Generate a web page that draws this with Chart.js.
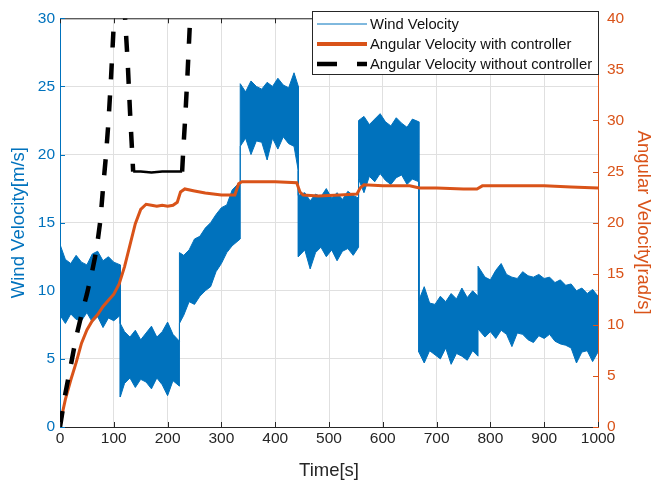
<!DOCTYPE html>
<html>
<head>
<meta charset="utf-8">
<script src="https://cdn.jsdelivr.net/npm/chart.js@4.4.0/dist/chart.umd.min.js"></script>
<style>
html,body{margin:0;padding:0;background:#fff}
</style>
</head>
<body>
<canvas id="velChart" width="652" height="482"></canvas>
<script>
// wind velocity band (m/s): upper and lower edge of the noisy signal
const windTime = [0,10,20,30,40,50,60,70,80,90,100,112,
  112,120,130,140,150,160,170,180,190,200,210,222,
  222,230,240,250,260,270,280,290,300,310,320,335,
  335,345,355,365,375,385,395,405,415,425,435,443,
  443,455,465,475,485,495,505,515,525,535,545,555,
  555,565,575,585,595,605,615,625,635,645,655,667,
  667,677,687,697,707,717,727,737,747,757,767,777,
  777,790,800,810,820,830,840,850,860,870,880,890,900,910,920,930,940,950,960,970,980,990,1000]
const windHigh = [13.4,12.3,12.0,12.6,12.1,11.9,12.7,12.9,12.2,12.5,12.1,11.9,
  7.6,7.0,6.6,7.1,6.4,6.9,7.4,6.6,7.0,7.7,6.8,6.3,
  12.8,12.6,13.0,13.8,14.0,14.6,15.0,15.6,16.1,16.3,17.4,18.0,
  25.2,24.6,25.4,25.0,24.8,25.3,25.0,25.6,25.1,24.9,26.0,25.0,
  17.0,17.2,16.6,17.1,16.9,17.5,16.8,17.2,16.7,17.3,17.0,16.8,
  22.5,22.8,22.2,22.6,23.0,22.4,22.1,22.7,22.3,22.0,22.6,22.4,
  9.3,10.3,9.1,9.0,9.6,9.2,9.8,9.4,10.2,9.5,10.0,9.6,
  11.8,11.0,10.8,11.5,12.0,11.2,11.0,10.9,11.4,11.1,11.0,11.2,10.9,11.0,10.6,10.8,10.4,10.5,10.0,10.2,9.8,10.1,9.6]
const windLow = [8.2,7.6,8.3,7.9,7.8,8.4,7.7,8.1,7.3,8.0,7.8,8.2,
  2.2,3.2,3.6,2.9,3.5,3.3,2.8,3.6,3.1,2.3,3.4,3.0,
  7.6,8.2,9.2,9.0,9.6,10.0,10.3,11.4,12.0,12.8,13.3,13.8,
  20.6,21.2,20.0,21.0,20.9,19.6,21.2,20.4,21.3,20.8,20.6,18.8,
  12.5,13.0,11.6,12.8,13.2,12.5,13.0,12.2,12.9,13.1,12.6,13.2,
  18.2,17.2,18.4,18.0,18.6,18.1,17.8,18.3,18.5,17.8,18.2,18.0,
  5.5,4.7,5.6,5.3,5.0,5.8,4.6,5.4,5.2,4.9,5.6,5.2,
  7.2,6.6,7.0,6.5,7.1,6.8,5.9,6.9,6.8,6.4,6.2,6.7,6.5,6.8,6.3,6.1,6.0,5.8,4.7,5.5,5.6,4.8,5.5]

// angular velocity with controller (rad/s)
const angTime = [0,5,10,20,30,40,50,60,70,80,90,100,110,120,130,140,150,160,170,180,
  190,200,210,218,224,232,250,270,300,325,332,338,360,400,440,446,452,480,520,552,
  558,565,600,650,668,700,750,775,785,850,900,950,1000]
const angWith = [0,1.5,2.7,4.6,6.3,8.2,9.5,10.4,11.0,11.8,12.4,13.0,14.0,15.7,17.8,19.9,21.3,21.8,21.7,21.6,
  21.7,21.6,21.7,22.0,23.0,23.3,23.1,22.9,22.7,22.7,23.8,24.0,24.0,24.0,23.9,23.0,22.7,22.6,22.7,22.8,
  23.4,23.7,23.6,23.6,23.4,23.4,23.3,23.3,23.6,23.6,23.6,23.5,23.4]

// angular velocity without controller (rad/s), runs off the top of the axes
const freeTime = [0,10,20,30,40,50,60,65,70,75,80,85,90,95,100,105,110,115,121,126,130,133,136,150,170,190,210,227,229,233,237,241,245,250]
const angWithout = [0,3.3,6.0,8.8,11.0,13.0,15.3,16.6,18.2,20.2,23.4,26.3,29.8,34.3,39.5,43.5,45.5,44.5,40.0,35.5,31.0,28.0,25.0,25.0,24.9,25.0,25.0,25.0,27.0,30.5,34.5,39.0,43.0,48.0]

const xTicks = [0,100,200,300,400,500,600,700,800,900,1000]
const legendLabels = ['Wind Velocity','Angular Velocity with controller','Angular Velocity without controller']

const BLUE = '#0072BD'
const ORANGE = '#D95319'
const DARK = '#262626'

Chart.defaults.font.family = '"Liberation Sans", Arial, sans-serif'

const pts = (xs, ys) => ys.map((v, i) => ({x: xs[i], y: v}))

const framePlugin = {
  id: 'frame',
  afterDraw(chart) {
    const {ctx, chartArea: a, scales} = chart
    ctx.save()
    ctx.lineWidth = 1
    ctx.strokeStyle = DARK
    ctx.beginPath()
    ctx.moveTo(a.left, a.top + 0.5)
    ctx.lineTo(a.right, a.top + 0.5)
    ctx.stroke()

    // inward tick marks
    scales.x.ticks.forEach(t => {
      const px = Math.round(scales.x.getPixelForValue(t.value)) + 0.5
      ctx.beginPath()
      ctx.moveTo(px, a.bottom); ctx.lineTo(px, a.bottom - 5)
      ctx.moveTo(px, a.top); ctx.lineTo(px, a.top + 5)
      ctx.stroke()
    })
    ctx.strokeStyle = BLUE
    scales.y.ticks.forEach(t => {
      const py = Math.round(scales.y.getPixelForValue(t.value)) + 0.5
      ctx.beginPath(); ctx.moveTo(a.left, py); ctx.lineTo(a.left + 5, py); ctx.stroke()
    })
    ctx.strokeStyle = ORANGE
    scales.y1.ticks.forEach(t => {
      const py = Math.round(scales.y1.getPixelForValue(t.value)) + 0.5
      ctx.beginPath(); ctx.moveTo(a.right, py); ctx.lineTo(a.right - 5, py); ctx.stroke()
    })

    // legend box
    const lx = 312, ly = 11, lw = a.right - lx + 1, lh = 64
    ctx.fillStyle = '#fff'
    ctx.fillRect(lx, ly, lw, lh)
    ctx.strokeStyle = DARK
    ctx.strokeRect(lx + 0.5, ly + 0.5, lw - 1, lh - 1)
    const rows = [
      {color: BLUE, width: 1, dash: []},
      {color: ORANGE, width: 4, dash: []},
      {color: '#000', width: 4.5, dash: [20, 20]}
    ]
    ctx.font = '14.8px "Liberation Sans", Arial, sans-serif'
    ctx.textBaseline = 'middle'
    rows.forEach((r, i) => {
      const y = ly + 13 + i * 20
      ctx.strokeStyle = r.color
      ctx.lineWidth = r.width
      ctx.setLineDash(r.dash)
      ctx.beginPath(); ctx.moveTo(317, y); ctx.lineTo(367, y); ctx.stroke()
      ctx.setLineDash([])
      ctx.fillStyle = '#111'
      ctx.fillText(legendLabels[i], 370, y + 1)
    })
    ctx.restore()
  }
}

new Chart('velChart', {
  type: 'line',
  data: {
    datasets: [
      {
        label: legendLabels[2],
        data: pts(freeTime, angWithout),
        yAxisID: 'y1',
        borderColor: '#000',
        borderWidth: 4.5,
        borderDash: [16, 16],
        clip: 0,
        segment: {
          borderDash: c => (c.p0.parsed.x >= 136 && c.p1.parsed.x <= 227) ? [] : undefined,
          borderWidth: c => (c.p0.parsed.x >= 136 && c.p1.parsed.x <= 227) ? 2.5 : undefined
        }
      },
      {
        label: legendLabels[1],
        data: pts(angTime, angWith),
        yAxisID: 'y1',
        borderColor: ORANGE,
        borderWidth: 3
      },
      {
        label: legendLabels[0],
        data: pts(windTime, windHigh),
        yAxisID: 'y',
        borderColor: BLUE,
        borderWidth: 1
      },
      {
        label: 'wind low',
        data: pts(windTime, windLow),
        yAxisID: 'y',
        borderColor: BLUE,
        borderWidth: 1,
        backgroundColor: BLUE,
        fill: '-1'
      }
    ]
  },
  options: {
    responsive: false,
    animation: false,
    layout: {padding: {top: 11}},
    elements: {point: {radius: 0}, line: {tension: 0}},
    plugins: {legend: {display: false}, tooltip: {enabled: false}},
    scales: {
      x: {
        type: 'linear', min: 0, max: 1000,
        afterBuildTicks: s => { s.ticks = xTicks.map(v => ({value: v})) },
        ticks: {color: DARK, font: {size: 15.5}, padding: 2, maxRotation: 0, autoSkip: false, callback: v => String(v)},
        grid: {color: '#e0e0e0', drawTicks: false},
        border: {color: DARK},
        title: {display: true, text: 'Time[s]', color: DARK, font: {size: 18.5, lineHeight: 1}, padding: {top: 0, bottom: 2}},
        afterFit: s => { s.height = 55 }
      },
      y: {
        position: 'left', min: 0, max: 30,
        ticks: {stepSize: 5, color: BLUE, font: {size: 15.5}, padding: 5},
        grid: {color: '#e0e0e0', drawTicks: false},
        border: {color: BLUE},
        title: {display: true, text: 'Wind Velocity[m/s]', color: BLUE, font: {size: 18.5, lineHeight: 1}, padding: {top: 10}},
        afterFit: s => { s.width = 60 }
      },
      y1: {
        position: 'right', min: 0, max: 40,
        ticks: {stepSize: 5, color: ORANGE, font: {size: 15.5}, padding: 9},
        grid: {display: false, drawTicks: false},
        border: {color: ORANGE},
        title: {display: true, text: 'Angular Velocity[rad/s]', color: ORANGE, font: {size: 18.5, lineHeight: 1}, padding: {top: 0}},
        afterFit: s => { s.width = 54 }
      }
    }
  },
  plugins: [framePlugin]
})
</script>
</body>
</html>
